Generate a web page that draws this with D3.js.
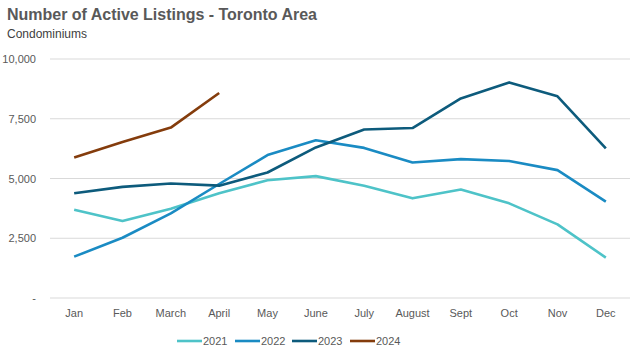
<!DOCTYPE html>
<html><head><meta charset="utf-8">
<script src="https://cdn.jsdelivr.net/npm/d3@7"></script>
<style>body{margin:0;background:#fff}svg{display:block}text{font-family:"Liberation Sans",Arial,sans-serif}</style>
</head><body><svg id="c" width="631" height="351"></svg>
<script>
const months = ["Jan","Feb","March","April","May","June","July","August","Sept","Oct","Nov","Dec"];
const s2021 = [3690,3220,3730,4380,4930,5100,4700,4170,4540,3960,3080,1690];
const s2022 = [1730,2520,3540,4770,5980,6600,6280,5670,5810,5730,5350,4030];
const s2023 = [4380,4650,4790,4700,5250,6300,7050,7110,8350,9020,8440,6260];
const s2024 = [5880,6530,7130,8580];
const seriesNames = ["2021","2022","2023","2024"];
const colors = ["#4ec3c8","#1a8bc3","#0d5b7c","#843c0c"];
const yTicks = [0,2500,5000,7500,10000];

const svg = d3.select("#c");
const x = d3.scaleBand().domain(months).range([50,630]);
const y = d3.scaleLinear().domain([0,10000]).range([298,59]);

svg.append("text").attr("x",7).attr("y",20).attr("font-size",16).attr("font-weight","bold").attr("fill","#595959").attr("textLength",310).text("Number of Active Listings - Toronto Area");
svg.append("text").attr("x",7).attr("y",38).attr("font-size",12).attr("fill","#404040").text("Condominiums");

svg.append("g").selectAll("line").data(yTicks).join("line")
  .attr("x1",50).attr("x2",630).attr("y1",d=>y(d)).attr("y2",d=>y(d))
  .attr("stroke","#d9d9d9").attr("stroke-width",1);

const fmt = d3.format(",");
svg.append("g").selectAll("text").data(yTicks).join("text")
  .attr("x",36).attr("y",d=>y(d)+4).attr("text-anchor","end").attr("font-size",11).attr("fill","#595959")
  .text(d=>d===0?"-":fmt(d));

svg.append("g").selectAll("text").data(months).join("text")
  .attr("x",d=>x(d)+x.bandwidth()/2).attr("y",317).attr("text-anchor","middle").attr("font-size",11).attr("fill","#595959")
  .text(d=>d);

const all = [s2021,s2022,s2023,s2024];
const line = d3.line().x((d,i)=>x(months[i])+x.bandwidth()/2).y(d=>y(d));
svg.append("g").selectAll("path").data(all).join("path")
  .attr("d",d=>line(d)).attr("fill","none").attr("stroke",(d,i)=>colors[i]).attr("stroke-width",2.6).attr("stroke-linejoin","round");

const lg = svg.append("g");
const lx = [177,235,292,350];
seriesNames.forEach((n,i)=>{
  lg.append("line").attr("x1",lx[i]).attr("x2",lx[i]+25).attr("y1",341).attr("y2",341).attr("stroke",colors[i]).attr("stroke-width",2.6);
  lg.append("text").attr("x",lx[i]+26).attr("y",345).attr("font-size",11).attr("fill","#595959").text(n);
});
</script></body></html>
